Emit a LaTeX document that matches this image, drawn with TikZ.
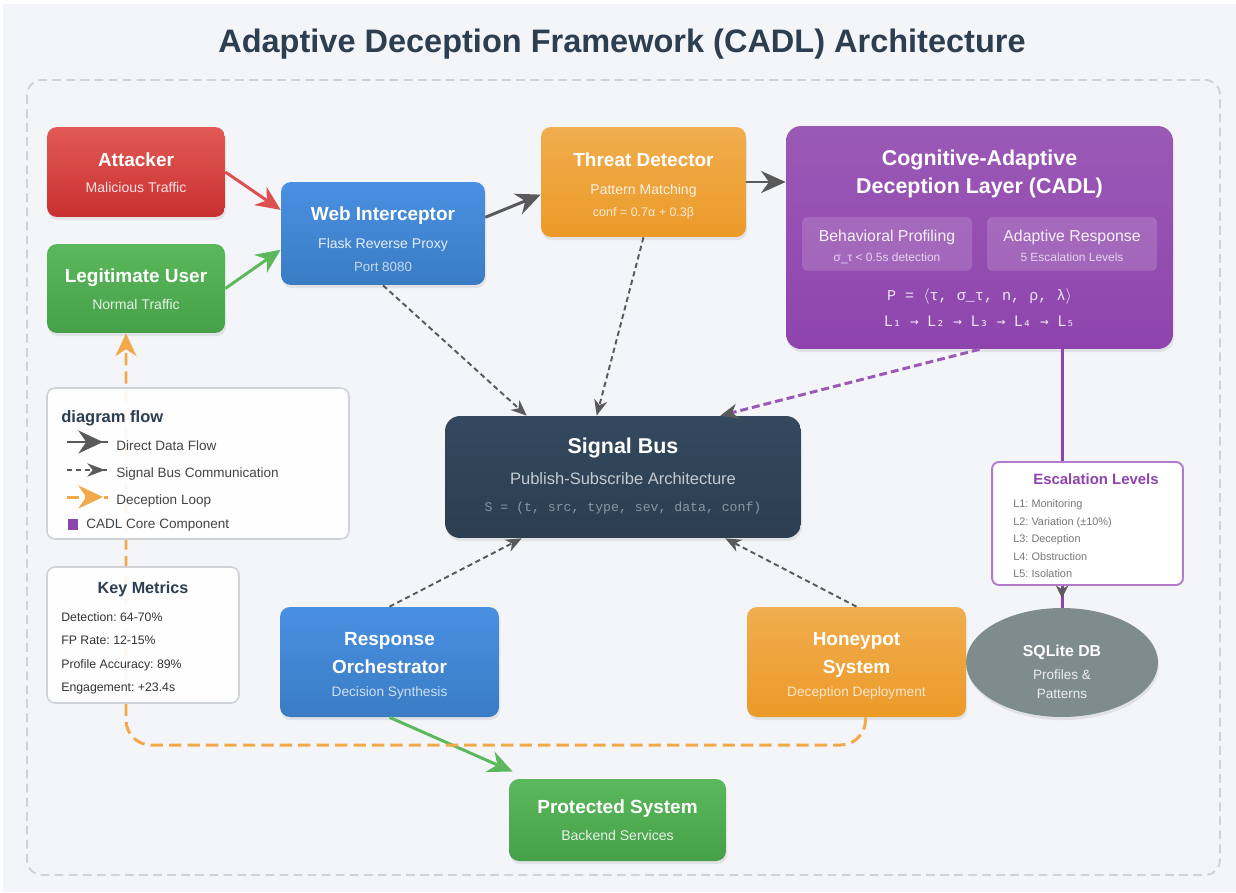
\documentclass[tikz,border=0pt]{standalone}
\usepackage{fontspec}
\setmainfont{Liberation Sans}
\newfontfamily\monof{Liberation Mono}
\newfontfamily\dvmono{DejaVu Sans Mono}
\usetikzlibrary{arrows.meta,shadows,calc,shapes.geometric}
\frenchspacing
\definecolor{bg}{HTML}{F4F5F9}
\definecolor{framec}{HTML}{CFD3D8}
\definecolor{titlec}{HTML}{2C3E50}
\definecolor{redA}{HTML}{E25A55}
\definecolor{redB}{HTML}{C93030}
\definecolor{greenA}{HTML}{5CB85C}
\definecolor{greenB}{HTML}{45A049}
\definecolor{blueA}{HTML}{4A90E2}
\definecolor{blueB}{HTML}{3A7CC4}
\definecolor{orangeA}{HTML}{F0AD4E}
\definecolor{orangeB}{HTML}{EC9A28}
\definecolor{purpleA}{HTML}{9B59B6}
\definecolor{purpleB}{HTML}{8E44AD}
\definecolor{sbA}{HTML}{34495E}
\definecolor{sbB}{HTML}{2C3E50}
\definecolor{dbgray}{HTML}{7F8C8D}
\definecolor{linegray}{HTML}{5A5A5A}
\definecolor{loopc}{HTML}{F2A94A}
\definecolor{arrred}{HTML}{DD5050}
\definecolor{arrgreen}{HTML}{5CB85C}
\definecolor{elborder}{HTML}{B27ACB}
\definecolor{legtext}{HTML}{444444}
\definecolor{kmtext}{HTML}{333333}
\definecolor{eltext}{HTML}{777777}
\definecolor{sbsub}{HTML}{C3CAD0}
\definecolor{sbform}{HTML}{8796A3}
\begin{document}
\begin{tikzpicture}[x=0.02cm, y=-0.02cm,
  box/.style={rounded corners=0.2cm, inner sep=0pt, draw=none,
    drop shadow={opacity=0.16, shadow xshift=0.6pt, shadow yshift=-1.8pt}},
  panel/.style={rounded corners=0.16cm, inner sep=0pt, fill=white, fill opacity=0.93, draw=framec, line width=0.9pt},
  subbox/.style={rounded corners=0.12cm, inner sep=0pt, fill=white, fill opacity=0.15, draw=none},
  ttl/.style={anchor=base, inner sep=0pt, text=white, font=\bfseries\fontsize{10.8}{13}\selectfont},
  sub/.style={anchor=base, inner sep=0pt, text=white, text opacity=0.85, font=\fontsize{8}{10}\selectfont},
  bigttl/.style={anchor=base, inner sep=0pt, text=white, font=\bfseries\fontsize{12.2}{15}\selectfont},
  legtxt/.style={anchor=base west, inner sep=0pt, text=legtext, font=\fontsize{7.7}{9}\selectfont},
  kmtxt/.style={anchor=base west, inner sep=0pt, text=kmtext, font=\fontsize{7}{9}\selectfont},
  eltxt/.style={anchor=base west, inner sep=0pt, text=eltext, font=\fontsize{6.2}{8}\selectfont},
  bigtip/.style={-{Stealth[length=14pt,width=12.5pt,inset=4.5pt]}},
  smalltip/.style={-{Stealth[length=9pt,width=7.5pt,inset=2.8pt]}},
  solidflow/.style={line width=1.7pt, draw=linegray, bigtip},
  busflow/.style={line width=1.1pt, draw=linegray, dash pattern=on 3pt off 2pt, smalltip},
  loopflow/.style={line width=1.7pt, draw=loopc, dash pattern=on 7pt off 3.5pt}
]
% background
\fill[white] (0,0) rectangle (1236,892);
\fill[bg] (3,4) rectangle (1236,892);
\useasboundingbox (0,0) rectangle (1236,892);
\draw[framec, line width=1.1pt, dash pattern=on 5pt off 3pt, rounded corners=0.3cm] (27,80) rectangle (1220,875);

% title
\node[anchor=base, inner sep=0pt, text=titlec, font=\bfseries\fontsize{18.5}{22}\selectfont] (title) at (622,53) {Adaptive Deception Framework (CADL) Architecture};

% ---- main boxes
\node[box, top color=redA, bottom color=redB, minimum width=3.56cm, minimum height=1.8cm] (att) at (136,172) {};
\node[ttl] (attT) at (136,166) {Attacker};
\node[sub] (attS) at (136,192.5) {Malicious Traffic};

\node[box, top color=greenA, bottom color=greenB, minimum width=3.56cm, minimum height=1.78cm] (legit) at (136,288.5) {};
\node[ttl] (legitT) at (136,282) {Legitimate User};
\node[sub] (legitS) at (136,309) {Normal Traffic};

\node[box, top color=blueA, bottom color=blueB, minimum width=4.08cm, minimum height=2.06cm] (wi) at (383,233.5) {};
\node[ttl] (wiT) at (383,220.5) {Web Interceptor};
\node[sub] (wiS) at (383,248) {Flask Reverse Proxy};
\node[sub, text opacity=0.7, font=\fontsize{7.6}{9}\selectfont] (wiP) at (383,271.5) {Port 8080};

\node[box, top color=orangeA, bottom color=orangeB, minimum width=4.1cm, minimum height=2.2cm] (td) at (643.5,182) {};
\node[ttl] (tdT) at (643.5,166) {Threat Detector};
\node[sub] (tdS) at (643.5,194) {Pattern Matching};
\node[sub, text opacity=0.8, font=\fontsize{7.1}{9}\selectfont] (tdC) at (643.5,216.5) {conf = 0.7α + 0.3β};

\node[box, rounded corners=0.3cm, top color=purpleA, bottom color=purpleB, minimum width=7.74cm, minimum height=4.46cm] (cadl) at (979.5,237.5) {};
\node[bigttl] (cadlT1) at (979.5,165) {Cognitive-Adaptive};
\node[bigttl] (cadlT2) at (979.5,193) {Deception Layer (CADL)};
\node[subbox, minimum width=3.4cm, minimum height=1.08cm] (bp) at (887,244) {};
\node[anchor=base, inner sep=0pt, text=white, text opacity=0.9, font=\fontsize{9}{11}\selectfont] (bpT) at (887,241.5) {Behavioral Profiling};
\node[anchor=base, inner sep=0pt, text=white, text opacity=0.72, font=\fontsize{6.8}{8}\selectfont] (bpS) at (887,261.5) {σ\_τ < 0.5s detection};
\node[subbox, minimum width=3.4cm, minimum height=1.08cm] (ar) at (1072,244) {};
\node[anchor=base, inner sep=0pt, text=white, text opacity=0.9, font=\fontsize{9}{11}\selectfont] (arT) at (1072,241.5) {Adaptive Response};
\node[anchor=base, inner sep=0pt, text=white, text opacity=0.72, font=\fontsize{6.8}{8}\selectfont] (arS) at (1072,261.5) {5 Escalation Levels};
\node[anchor=base, inner sep=0pt, text=white, text opacity=0.85, font=\monof\fontsize{8.6}{10}\selectfont] (cadlP) at (979.5,300) {P = $\langle$τ, σ\_τ, n, ρ, λ$\rangle$};
\node[anchor=base, inner sep=0pt, text=white, text opacity=0.85, font=\dvmono\fontsize{8.2}{10}\selectfont] (cadlL) at (979.5,326.5) {L₁ → L₂ → L₃ → L₄ → L₅};

\node[box, rounded corners=0.3cm, top color=sbA, bottom color=sbB, minimum width=7.12cm, minimum height=2.44cm] (sb) at (623,477) {};
\node[bigttl] (sbT) at (623,453) {Signal Bus};
\node[anchor=base, inner sep=0pt, text=sbsub, font=\fontsize{9.4}{11}\selectfont] (sbS) at (623,484) {Publish-Subscribe Architecture};
\node[anchor=base, inner sep=0pt, text=sbform, font=\monof\fontsize{7.5}{9}\selectfont] (sbF) at (623,511.5) {S = (t, src, type, sev, data, conf)};

\node[box, top color=blueA, bottom color=blueB, minimum width=4.38cm, minimum height=2.2cm] (ro) at (389.5,662) {};
\node[ttl] (roT1) at (389.5,645.5) {Response};
\node[ttl] (roT2) at (389.5,673) {Orchestrator};
\node[sub, text opacity=0.75, font=\fontsize{7.8}{9}\selectfont] (roS) at (389.5,696.5) {Decision Synthesis};

\node[box, top color=orangeA, bottom color=orangeB, minimum width=4.38cm, minimum height=2.2cm] (hs) at (856.5,662) {};
\node[ttl] (hsT1) at (856.5,645.5) {Honeypot};
\node[ttl] (hsT2) at (856.5,673) {System};
\node[sub, text opacity=0.75, font=\fontsize{7.8}{9}\selectfont] (hsS) at (856.5,696.5) {Deception Deployment};

\node[box, top color=greenA, bottom color=greenB, minimum width=4.34cm, minimum height=1.64cm] (ps) at (617.5,820) {};
\node[ttl] (psT) at (617.5,813) {Protected System};
\node[sub] (psS) at (617.5,840.5) {Backend Services};

\node[ellipse, inner sep=0pt, fill=dbgray, minimum width=3.84cm, minimum height=2.18cm,
  drop shadow={opacity=0.16, shadow xshift=0.6pt, shadow yshift=-1.8pt}] (db) at (1062,662.5) {};
\node[anchor=base, inner sep=0pt, text=white, font=\bfseries\fontsize{9}{11}\selectfont] (dbT) at (1062,656) {SQLite DB};
\node[anchor=base, inner sep=0pt, text=white, text opacity=0.85, font=\fontsize{7.7}{9}\selectfont] (dbS1) at (1062,679) {Profiles \&};
\node[anchor=base, inner sep=0pt, text=white, text opacity=0.85, font=\fontsize{7.7}{9}\selectfont] (dbS2) at (1062,698) {Patterns};

\node[rounded corners=0.14cm, inner sep=0pt, fill=white, draw=elborder, line width=1.1pt, minimum width=3.82cm, minimum height=2.46cm] (el) at (1087.5,523.5) {};
\node[anchor=base, inner sep=0pt, text=purpleB, font=\bfseries\fontsize{8.5}{10}\selectfont] (elT) at (1096,484) {Escalation Levels};
\node[eltxt] (el1) at (1013,507) {L1: Monitoring};
\node[eltxt] (el2) at (1013,525) {L2: Variation (±10\%)};
\node[eltxt] (el3) at (1013,542.5) {L3: Deception};
\node[eltxt] (el4) at (1013,560) {L4: Obstruction};
\node[eltxt] (el5) at (1013,577.5) {L5: Isolation};

% ---- connectors
\draw[line width=1.7pt, draw=arrred, bigtip] (att.east) -- (wi.167);
\draw[line width=1.7pt, draw=arrgreen, bigtip] (legit.east) -- (wi.189);
\draw[solidflow] (wi.9) -- (td.187);
\draw[solidflow] (td.east) -- (td.east -| cadl.west);
\draw[busflow] (wi.south) -- ($(sb.north west)+(82,0)$);
\draw[busflow] (td.south) -- ($(sb.north west)+(152,0)$);
\draw[line width=1.7pt, draw=purpleA, dash pattern=on 4.5pt off 2.3pt,
  -{Stealth[length=10pt,width=8.5pt,inset=3pt,color=linegray]}] (cadl.south) -- ($(sb.north east)+(-81,0)$);
\draw[busflow] (ro.north) -- ($(sb.south west)+(77,0)$);
\draw[busflow] (hs.north) -- ($(sb.south east)+(-76,0)$);
\draw[line width=1.7pt, draw=arrgreen, bigtip] (ro.south) -- ($(ps.north west)+(4,-7)$);
\draw[line width=1.7pt, draw=purpleB] (cadl.south -| db.north) -- (el.north -| db.north);
\draw[line width=1.7pt, draw=purpleB] (el.south -| db.north) -- (db.north);
\draw[line width=0.4pt, draw=linegray, -{Stealth[length=7pt,width=7pt,inset=2pt]}] (el.south -| db.north) -- ++(0,12);
\coordinate (loopL) at (126,745);
\draw[loopflow, rounded corners=0.5cm, -{Stealth[length=13pt,width=12pt,inset=4pt]}]
  ($(hs.south)+(9,0)$) |- (loopL) -- ($(legit.south)+(-10,0)$);

% ---- legend panels (drawn over the loop line)
\node[panel, minimum width=6.04cm, minimum height=3.02cm] (legend) at (198,463.5) {};
\node[anchor=base west, inner sep=0pt, text=titlec, font=\bfseries\fontsize{9.4}{11}\selectfont] (legT) at (61,422.5) {diagram flow};
\draw[line width=1.7pt, linegray] (67,442) -- (108,442);
\draw[line width=1.7pt, linegray, -{Stealth[length=14pt,width=13pt,inset=4.5pt]}] (67,442) -- (103,442);
\node[legtxt] (leg1) at (116,450) {Direct Data Flow};
\draw[line width=1.1pt, linegray, dash pattern=on 3pt off 2pt] (67,470) -- (108,470);
\draw[line width=1.1pt, linegray, dash pattern=on 3pt off 2pt, -{Stealth[length=10pt,width=7.5pt,inset=3pt]}] (67,470) -- (105,470);
\node[legtxt] (leg2) at (116,477.5) {Signal Bus Communication};
\draw[line width=1.7pt, loopc, dash pattern=on 7pt off 3.5pt] (67,497) -- (108,497);
\draw[line width=1.7pt, loopc, -{Stealth[length=14pt,width=13pt,inset=4.5pt]}] (90,497) -- (103,497);
\node[legtxt] (leg3) at (116,504.5) {Deception Loop};
\fill[purpleB] (68,519) rectangle (78,530);
\node[legtxt] (leg4) at (86,528.5) {CADL Core Component};

\node[panel, minimum width=3.84cm, minimum height=2.72cm] (km) at (143,635) {};
\node[anchor=base, inner sep=0pt, text=titlec, font=\bfseries\fontsize{9.2}{11}\selectfont] (kmT) at (143,593) {Key Metrics};
\node[kmtxt] (km1) at (61,621.5) {Detection: 64-70\%};
\node[kmtxt] (km2) at (61,644) {FP Rate: 12-15\%};
\node[kmtxt] (km3) at (61,668) {Profile Accuracy: 89\%};
\node[kmtxt] (km4) at (61,691.5) {Engagement: +23.4s};
\end{tikzpicture}
\end{document}
